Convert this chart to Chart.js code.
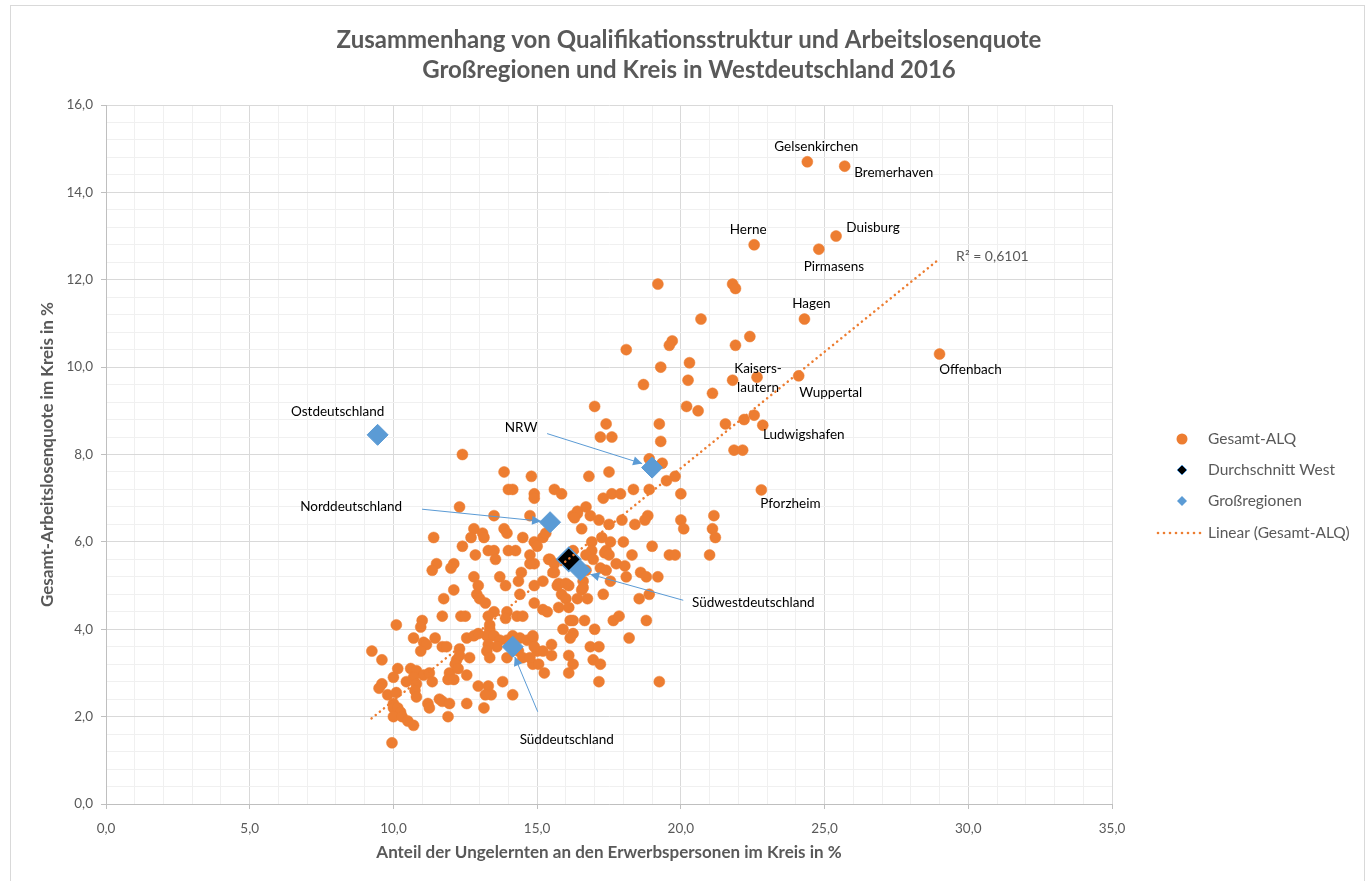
<!DOCTYPE html>
<html>
<head>
<meta charset="utf-8">
<script src="https://cdn.jsdelivr.net/npm/chart.js@4.4.0/dist/chart.umd.min.js"></script>
<style>
  body { margin: 0; background: #fff; }
  canvas { display: block; }
</style>
</head>
<body>
<canvas id="myChart" width="1371" height="881"></canvas>
<script>
// Kreise: Anteil Ungelernte (x) und Gesamt-ALQ (y), first 11 are labeled
const kreisX = [
  24.4, 25.7, 25.4, 24.8, 22.55, 24.3, 29.0, 24.1, 22.65, 22.85, 22.8,
  21.8, 21.9, 20.7, 22.4, 21.9, 20.3, 20.25, 21.8, 21.1, 20.2, 20.6, 21.55, 22.2, 22.55, 21.85, 22.15, 20.0, 21.15, 20.0, 21.1, 21.2,
  19.2, 19.7, 19.6, 18.1, 19.3, 18.7, 17.0, 17.4, 19.25, 17.2, 17.6, 19.3, 18.9, 19.35, 17.5, 16.8, 19.8, 19.5, 14.8, 18.35, 18.9, 15.6, 15.85, 14.9, 14.9, 17.3, 17.6, 17.9,
  16.7, 16.4, 16.25, 16.85, 17.15, 16.55, 18.85, 18.75, 17.95, 17.5, 18.4, 20.1, 16.9, 17.25, 17.55, 18.0, 19.0, 16.9, 17.4, 18.3, 17.75, 19.6, 19.8, 21.0, 15.45, 14.9,
  16.25, 17.35, 17.5, 17.2, 18.6, 18.8, 19.2, 18.1, 17.55, 17.3, 18.55, 18.9, 17.65, 17.85, 18.8, 18.2,
  15.6, 15.2, 14.9, 15.7, 16.1, 16.55, 15.85, 16.0, 16.4, 16.75, 14.9, 15.2, 15.35, 15.75, 16.1, 16.15, 16.25, 16.65, 15.9, 17.0,
  16.25, 16.15, 14.85, 15.5, 15.0, 15.2, 15.5, 16.85, 17.15, 16.1, 16.95, 17.2, 16.25, 14.85, 15.05, 15.25, 16.1, 17.15, 19.25,
  12.1, 12.0, 12.8, 13.7, 13.9, 14.35, 14.45, 14.75, 12.95, 12.9, 13.0, 12.1, 11.75, 13.2, 14.4, 13.5, 13.3, 13.35, 13.95, 13.9,
  14.3, 14.5, 12.35, 12.5, 11.7, 11.0, 10.95, 10.1, 13.35, 13.25, 13.5, 13.7, 13.6, 13.3, 13.95, 14.15, 14.4, 14.65, 14.85, 12.55,
  12.8, 12.95, 11.45, 10.7, 11.05, 11.15, 10.95, 11.7, 11.85, 12.3, 12.65, 12.2, 12.3, 13.25, 13.35, 13.95, 14.35, 14.5, 14.75, 14.9,
  9.25, 9.6, 10.15, 10.0, 10.6, 10.8, 11.05, 10.7, 10.8, 10.45, 11.25, 11.35, 11.95, 12.15, 12.25, 11.9, 12.1, 12.55, 12.95, 13.3,
  13.4, 13.8, 14.15, 13.2, 9.8, 10.1, 10.0, 10.75, 10.8, 11.6, 11.7, 11.2, 11.25, 11.95, 12.55, 10.0, 10.15, 10.25, 10.0, 10.3,
  10.5, 10.7, 11.9, 13.15, 9.95, 9.6, 9.5,
  12.4, 13.85, 14.0, 14.15, 12.3, 13.5, 14.75, 11.4, 12.8, 12.7, 13.1, 13.15, 13.85, 13.95, 14.5, 14.9, 12.4, 12.85, 13.3, 13.5,
  13.55, 14.0, 14.25, 14.75, 16.4, 16.3, 15.0, 15.2, 15.3, 15.4, 16.7, 16.95, 18.05, 11.5, 11.35, 15.6, 15.55, 15.75, 16.0, 16.6,
  16.7, 17.4, 16.6
];
const kreisY = [
  14.7, 14.6, 13.0, 12.7, 12.8, 11.1, 10.3, 9.8, 9.77, 8.67, 7.19,
  11.9, 11.8, 11.1, 10.7, 10.5, 10.1, 9.7, 9.7, 9.4, 9.1, 9.0, 8.7, 8.8, 8.9, 8.1, 8.1, 7.1, 6.6, 6.5, 6.3, 6.1,
  11.9, 10.6, 10.5, 10.4, 10.0, 9.6, 9.1, 8.7, 8.7, 8.4, 8.4, 8.3, 7.9, 7.8, 7.6, 7.5, 7.5, 7.4, 7.5, 7.2, 7.2, 7.2, 7.1, 7.1, 7.0, 7.0, 7.1, 7.1,
  6.8, 6.7, 6.6, 6.6, 6.5, 6.3, 6.6, 6.5, 6.5, 6.4, 6.4, 6.3, 6.0, 6.1, 6.0, 6.0, 5.9, 5.8, 5.8, 5.7, 5.5, 5.7, 5.7, 5.7, 5.6, 5.5,
  5.8, 5.75, 5.7, 5.4, 5.3, 5.2, 5.2, 5.2, 5.1, 4.8, 4.7, 4.8, 4.2, 4.3, 4.2, 3.8,
  5.3, 5.1, 5.0, 5.0, 5.0, 4.9, 4.8, 4.7, 4.7, 4.7, 4.6, 4.45, 4.4, 4.5, 4.5, 4.2, 4.2, 4.2, 4.0, 4.0,
  3.9, 3.8, 3.8, 3.65, 3.5, 3.5, 3.4, 3.6, 3.6, 3.4, 3.3, 3.2, 3.2, 3.2, 3.2, 3.0, 3.0, 2.8, 2.8,
  5.5, 5.4, 5.2, 5.2, 5.0, 5.1, 5.3, 5.5, 5.0, 4.8, 4.7, 4.9, 4.7, 4.6, 4.8, 4.4, 4.3, 4.1, 4.4, 4.25,
  4.3, 4.3, 4.3, 4.3, 4.3, 4.2, 4.05, 4.1, 4.0, 3.85, 3.85, 3.75, 3.6, 3.65, 3.75, 3.85, 3.8, 3.75, 3.85, 3.8,
  3.85, 3.9, 3.8, 3.8, 3.7, 3.65, 3.5, 3.6, 3.6, 3.55, 3.35, 3.3, 3.4, 3.5, 3.35, 3.35, 3.5, 3.35, 3.35, 3.6,
  3.5, 3.3, 3.1, 2.9, 3.1, 3.05, 2.95, 2.9, 2.75, 2.8, 3.0, 2.8, 3.0, 3.2, 3.1, 2.85, 2.85, 2.95, 2.7, 2.7,
  2.5, 2.8, 2.5, 2.5, 2.5, 2.55, 2.3, 2.6, 2.45, 2.4, 2.35, 2.3, 2.2, 2.3, 2.3, 2.2, 2.2, 2.1, 2.0, 2.0,
  1.9, 1.8, 2.0, 2.2, 1.4, 2.75, 2.65,
  8.0, 7.6, 7.2, 7.2, 6.8, 6.6, 6.6, 6.1, 6.3, 6.1, 6.2, 6.1, 6.3, 6.2, 6.1, 6.0, 5.9, 5.7, 5.8, 5.8,
  5.6, 5.8, 5.8, 5.7, 6.65, 6.55, 5.9, 6.1, 6.2, 5.6, 5.7, 5.6, 5.45, 5.5, 5.35, 5.5, 5.3, 5.05, 5.05, 5.1,
  5.35, 5.35, 4.95
];
const kreisLabels = ['Gelsenkirchen', 'Bremerhaven', 'Duisburg', 'Pirmasens', 'Herne', 'Hagen',
  'Offenbach', 'Wuppertal', 'Kaisers-\nlautern', 'Ludwigshafen', 'Pforzheim'];

// Durchschnitt West
const westX = [16.1];
const westY = [5.6];

// Großregionen
const regionNames = ['Ostdeutschland', 'NRW', 'Norddeutschland', 'Südwestdeutschland', 'Süddeutschland'];
const regionX = [9.45, 19.0, 15.45, 16.5, 14.15];
const regionY = [8.45, 7.7, 6.45, 5.35, 3.6];

// Linear trend (Gesamt-ALQ), endpoints
const trendX = [9.24, 29.02];
const trendY = [1.96, 12.49];
const trendR2 = 'R² = 0,6101';

const ORANGE = '#ED7D31';
const BLUE = '#5B9BD5';
const GREY = '#595959';
const FONT = 'Lato, "Open Sans", sans-serif';

const fmt = (v) => v.toFixed(1).replace('.', ',');
const isMajorX = (v) => Math.abs(v / 5 - Math.round(v / 5)) < 1e-6;
const isMajorY = (v) => Math.abs(v / 2 - Math.round(v / 2)) < 1e-6;

// label offsets in pixels, relative to their point
const kreisLabelOffsets = [[9, -15], [49, 6], [37, -8], [15, 17], [-6, -15], [7, -15], [31, 16], [32, 17], [1, -9], [41, 9], [29, 14]];
const regionLabelOffsets = [[-40, -23], [-131, -40], [-199, -16], [173, 32], [54, 93]];
const regionArrows = [null, [-105, -34, -10, -4], [-128, -13, -9, -1], [103, 30, 10, 4], [25, 65, 2, 10]];

function drawArrow(ctx, x1, y1, x2, y2, head) {
  ctx.beginPath();
  ctx.moveTo(x1, y1);
  ctx.lineTo(x2, y2);
  ctx.stroke();
  if (!head) return;
  const a = Math.atan2(y2 - y1, x2 - x1);
  const len = 9, w = 4.5;
  ctx.beginPath();
  ctx.moveTo(x2, y2);
  ctx.lineTo(x2 - len * Math.cos(a) + w * Math.sin(a), y2 - len * Math.sin(a) - w * Math.cos(a));
  ctx.lineTo(x2 - len * Math.cos(a) - w * Math.sin(a), y2 - len * Math.sin(a) + w * Math.cos(a));
  ctx.closePath();
  ctx.fill();
}

function diamond(ctx, x, y, r) {
  ctx.beginPath();
  ctx.moveTo(x, y - r);
  ctx.lineTo(x + r, y);
  ctx.lineTo(x, y + r);
  ctx.lineTo(x - r, y);
  ctx.closePath();
}

const annotationPlugin = {
  id: 'annotations',
  beforeDraw(chart) {
    const ctx = chart.ctx;
    ctx.save();
    ctx.fillStyle = '#fff';
    ctx.fillRect(0, 0, chart.width, chart.height);
    ctx.strokeStyle = '#d9d9d9';
    ctx.lineWidth = 1;
    ctx.strokeRect(10.5, 5.5, 1354, 900);
    ctx.restore();
  },
  afterDraw(chart) {
    const ctx = chart.ctx;
    const xs = chart.scales.x;
    const ys = chart.scales.y;
    ctx.save();

    // Title
    ctx.fillStyle = GREY;
    ctx.textAlign = 'center';
    ctx.textBaseline = 'middle';
    ctx.font = 'bold 24px ' + FONT;
    ctx.fillText('Zusammenhang von Qualifikationsstruktur und Arbeitslosenquote', 689, 40);
    ctx.fillText('Großregionen und Kreis in Westdeutschland 2016', 689, 70);

    // City labels
    ctx.fillStyle = '#000';
    ctx.font = '13.5px ' + FONT;
    kreisLabels.forEach((name, i) => {
      const px = xs.getPixelForValue(kreisX[i]) + kreisLabelOffsets[i][0];
      const py = ys.getPixelForValue(kreisY[i]) + kreisLabelOffsets[i][1];
      name.split('\n').forEach((line, j) => ctx.fillText(line, px, py + j * 19));
    });

    // Region labels and arrows
    ctx.strokeStyle = BLUE;
    ctx.lineWidth = 1;
    regionNames.forEach((name, i) => {
      const cx = xs.getPixelForValue(regionX[i]);
      const cy = ys.getPixelForValue(regionY[i]);
      ctx.fillStyle = '#000';
      ctx.fillText(name, cx + regionLabelOffsets[i][0], cy + regionLabelOffsets[i][1]);
      const a = regionArrows[i];
      if (a) {
        ctx.fillStyle = BLUE;
        drawArrow(ctx, cx + a[0], cy + a[1], cx + a[2], cy + a[3], true);
      }
    });

    // R² label at the end of the trend line
    ctx.fillStyle = GREY;
    ctx.textAlign = 'left';
    ctx.font = '14px ' + FONT;
    ctx.fillText(trendR2, xs.getPixelForValue(trendX[1]) + 16, ys.getPixelForValue(trendY[1]) - 2);

    // Legend
    const lx = 1182, tx = 1208;
    const rows = [439, 470, 501, 533];
    ctx.font = '15.5px ' + FONT;
    ctx.fillStyle = GREY;
    ['Gesamt-ALQ', 'Durchschnitt West', 'Großregionen', 'Linear (Gesamt-ALQ)'].forEach((t, i) => ctx.fillText(t, tx, rows[i]));
    ctx.fillStyle = ORANGE;
    ctx.beginPath();
    ctx.arc(lx, rows[0], 5.5, 0, Math.PI * 2);
    ctx.fill();
    diamond(ctx, lx, rows[1], 5);
    ctx.fillStyle = '#000';
    ctx.fill();
    ctx.strokeStyle = BLUE;
    ctx.stroke();
    diamond(ctx, lx, rows[2], 5);
    ctx.fillStyle = BLUE;
    ctx.fill();
    ctx.fillStyle = ORANGE;
    for (let x = 1158; x <= 1202; x += 6) {
      ctx.beginPath();
      ctx.arc(x, rows[3], 1.3, 0, Math.PI * 2);
      ctx.fill();
    }
    ctx.restore();
  }
};

// Set datasets
const data = {
  datasets: [
    {
      type: 'line',
      label: 'Linear (Gesamt-ALQ)',
      data: trendX.map((x, i) => ({ x: x, y: trendY[i] })),
      borderColor: ORANGE,
      borderWidth: 2.5,
      borderDash: [0.1, 5.2],
      borderCapStyle: 'round',
      pointRadius: 0,
      fill: false,
      order: 0,
    },
    {
      label: 'Durchschnitt West',
      data: westX.map((x, i) => ({ x: x, y: westY[i] })),
      pointStyle: 'rectRot',
      pointRadius: 12,
      backgroundColor: '#000',
      borderColor: BLUE,
      borderWidth: 1.5,
      order: 1,
    },
    {
      label: 'Großregionen',
      data: regionX.map((x, i) => ({ x: x, y: regionY[i] })),
      pointStyle: 'rectRot',
      pointRadius: 10.5,
      backgroundColor: BLUE,
      borderColor: BLUE,
      borderWidth: 1,
      order: 2,
    },
    {
      label: 'Gesamt-ALQ',
      data: kreisX.map((x, i) => ({ x: x, y: kreisY[i] })),
      pointStyle: 'circle',
      pointRadius: 5.5,
      backgroundColor: ORANGE,
      borderColor: ORANGE,
      borderWidth: 0.5,
      order: 3,
    },
  ],
};

// Set chart config
const config = {
  type: 'scatter',
  data: data,
  plugins: [annotationPlugin],
  options: {
    responsive: false,
    animation: false,
    devicePixelRatio: 1,
    layout: { padding: { top: 105, right: 259, bottom: 0, left: 0 } },
    plugins: {
      legend: { display: false },
      tooltip: { enabled: false },
    },
    scales: {
      x: {
        type: 'linear',
        min: 0,
        max: 35,
        afterFit: (s) => { s.height = 77; },
        ticks: {
          stepSize: 1,
          autoSkip: false,
          maxRotation: 0,
          padding: 12,
          color: GREY,
          font: { family: FONT, size: 13.5 },
          callback: (v) => (isMajorX(v) ? fmt(v) : ''),
        },
        grid: {
          color: (c) => (c.tick && isMajorX(c.tick.value) ? '#d9d9d9' : '#f0f0f0'),
          tickColor: (c) => (c.tick && isMajorX(c.tick.value) ? '#bfbfbf' : 'rgba(0,0,0,0)'),
          tickLength: 5,
        },
        border: { color: '#bfbfbf' },
        title: {
          display: true,
          text: 'Anteil der Ungelernten an den Erwerbspersonen im Kreis in %',
          color: GREY,
          font: { family: FONT, size: 17, weight: 'bold' },
          padding: { top: 0, bottom: 18 },
        },
      },
      y: {
        type: 'linear',
        min: 0,
        max: 16,
        afterFit: (s) => { s.width = 106; },
        ticks: {
          stepSize: 0.4,
          autoSkip: false,
          padding: 8,
          color: GREY,
          font: { family: FONT, size: 13.5 },
          callback: (v) => (isMajorY(v) ? fmt(v) : ''),
        },
        grid: {
          color: (c) => (c.tick && isMajorY(c.tick.value) ? '#d9d9d9' : '#f0f0f0'),
          tickColor: (c) => (c.tick && isMajorY(c.tick.value) ? '#bfbfbf' : 'rgba(0,0,0,0)'),
          tickLength: 5,
        },
        border: { color: '#bfbfbf' },
        title: {
          display: true,
          text: 'Gesamt-Arbeitslosenquote im Kreis in %',
          color: GREY,
          font: { family: FONT, size: 17, weight: 'bold' },
          padding: { top: 37, bottom: 0 },
        },
      },
    },
  },
};

const ctx = document.getElementById('myChart').getContext('2d');
const myChart = new Chart(ctx, config);
</script>
</body>
</html>
